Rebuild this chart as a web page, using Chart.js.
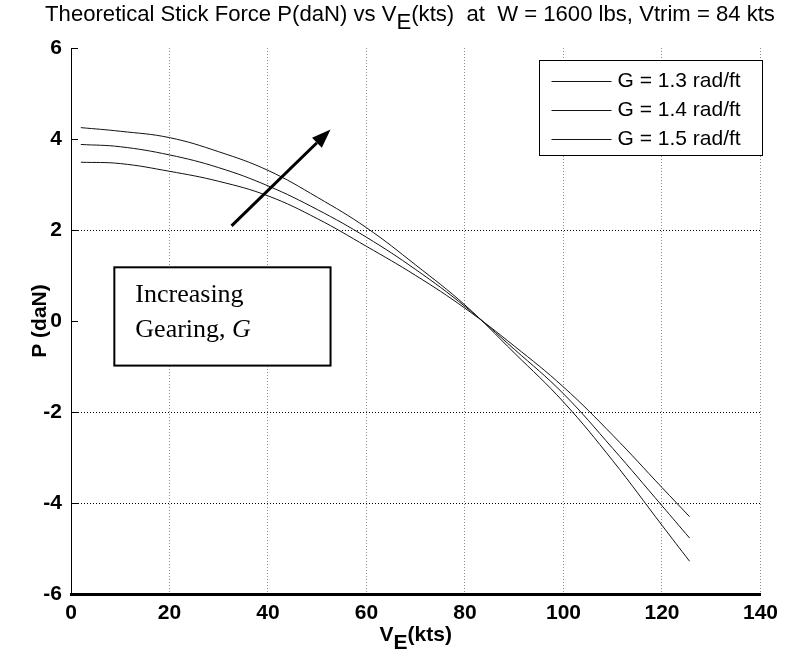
<!DOCTYPE html>
<html lang="en">
  <head>
    <meta charset="utf-8" />
    <title>Theoretical Stick Force</title>
    <style>
      html, body { margin: 0; padding: 0; background: #fff; }
      #wrap { width: 785px; height: 659px; }
    </style>
  </head>
  <body>
    <div id="wrap">
      <canvas id="canvas"></canvas>
    </div>

    <script src="https://cdn.jsdelivr.net/npm/chart.js"></script>

    <script>
      // equivalent airspeed, kts
      const speeds = [2, 10, 20, 30, 40, 50, 60, 70, 80, 90, 100, 110, 120, 125.6];
      // stick force P (daN) for each gearing
      const forceG13 = [3.49, 3.46, 3.29, 3.07, 2.75, 2.25, 1.64, 1.0, 0.28, -0.55, -1.45, -2.51, -3.66, -4.3];
      const forceG14 = [3.88, 3.83, 3.65, 3.37, 2.97, 2.45, 1.84, 1.13, 0.32, -0.62, -1.6, -2.8, -4.06, -4.77];
      const forceG15 = [4.25, 4.17, 4.03, 3.72, 3.31, 2.72, 2.05, 1.23, 0.35, -0.7, -1.78, -3.07, -4.49, -5.28];
      const seriesLabels = ["G = 1.3 rad/ft", "G = 1.4 rad/ft", "G = 1.5 rad/ft"];

      const xTicks = [0, 20, 40, 60, 80, 100, 120, 140];
      const yTicks = [-6, -4, -2, 0, 2, 4, 6];
      // only these horizontal grid lines show in the original
      const yGridShown = [2, -2, -4];

      const SANS = "'Liberation Sans', Arial, sans-serif";
      const SERIF = "'Liberation Serif', 'Times New Roman', serif";

      // draws text runs, some of them as subscripts
      function drawRuns(ctx, runs, x, y, size, weight) {
        ctx.font = weight + " " + size + "px " + SANS;
        let w = 0;
        runs.forEach((r) => (w += ctx.measureText(r.t).width));
        let cx = x - w / 2;
        ctx.textAlign = "left";
        ctx.textBaseline = "alphabetic";
        runs.forEach((r) => {
          ctx.fillText(r.t, cx, r.sub ? y + size * 0.38 : y);
          cx += ctx.measureText(r.t).width;
        });
      }

      const decor = {
        id: "decor",
        afterDatasetsDraw(chart) {
          const { ctx, chartArea: a, scales } = chart;
          const sx = scales.x, sy = scales.y;
          ctx.save();

          // inward ticks on the left axis
          ctx.strokeStyle = "#000";
          ctx.lineWidth = 1;
          yTicks.forEach((v) => {
            const py = Math.round(sy.getPixelForValue(v)) + 0.5;
            ctx.beginPath();
            ctx.moveTo(a.left, py);
            ctx.lineTo(a.left + 7, py);
            ctx.stroke();
          });

          // annotation box
          const bx1 = sx.getPixelForValue(8.8), bx2 = sx.getPixelForValue(52.7);
          const by1 = sy.getPixelForValue(1.18), by2 = sy.getPixelForValue(-0.98);
          ctx.fillStyle = "#fff";
          ctx.fillRect(bx1, by1, bx2 - bx1, by2 - by1);
          ctx.lineWidth = 2;
          ctx.strokeStyle = "#000";
          ctx.strokeRect(bx1, by1, bx2 - bx1, by2 - by1);
          ctx.fillStyle = "#000";
          ctx.textAlign = "left";
          ctx.textBaseline = "alphabetic";
          ctx.font = "26px " + SERIF;
          ctx.fillText("Increasing", bx1 + 21, by1 + 35);
          const g = "Gearing, ";
          ctx.fillText(g, bx1 + 21, by1 + 70);
          const gw = ctx.measureText(g).width;
          ctx.font = "italic 26px " + SERIF;
          ctx.fillText("G", bx1 + 21 + gw, by1 + 70);

          // arrow
          const ax1 = sx.getPixelForValue(32.6), ay1 = sy.getPixelForValue(2.09);
          const ax2 = sx.getPixelForValue(52.7), ay2 = sy.getPixelForValue(4.21);
          const ang = Math.atan2(ay2 - ay1, ax2 - ax1);
          const hl = 19, hw = 7;
          const bxh = ax2 - hl * Math.cos(ang), byh = ay2 - hl * Math.sin(ang);
          ctx.lineWidth = 3;
          ctx.beginPath();
          ctx.moveTo(ax1, ay1);
          ctx.lineTo(bxh, byh);
          ctx.stroke();
          ctx.beginPath();
          ctx.moveTo(ax2, ay2);
          ctx.lineTo(bxh + hw * Math.sin(ang), byh - hw * Math.cos(ang));
          ctx.lineTo(bxh - hw * Math.sin(ang), byh + hw * Math.cos(ang));
          ctx.closePath();
          ctx.fill();

          // legend
          const lx = 539.5, ly = 60.5, lw = 223, lh = 95;
          ctx.fillStyle = "#fff";
          ctx.fillRect(lx, ly, lw, lh);
          ctx.lineWidth = 1;
          ctx.strokeStyle = "#000";
          ctx.strokeRect(lx, ly, lw, lh);
          ctx.font = "21px " + SANS;
          ctx.textBaseline = "middle";
          ctx.fillStyle = "#000";
          chart.data.datasets.forEach((ds, i) => {
            const yy = ly + 20 + i * 29;
            ctx.strokeStyle = ds.borderColor;
            ctx.beginPath();
            ctx.moveTo(lx + 12, Math.round(yy) + 0.5);
            ctx.lineTo(lx + 72, Math.round(yy) + 0.5);
            ctx.stroke();
            ctx.fillText(ds.label, lx + 78, yy + 1);
          });
          ctx.restore();
        },
        afterDraw(chart) {
          const { ctx, chartArea: a } = chart;
          ctx.save();
          ctx.fillStyle = "#000";

          // title, fitted to the width it takes in the original
          const titleRuns = [
            { t: "Theoretical Stick Force P(daN) vs V" },
            { t: "E", sub: true },
            { t: "(kts)  at  W = 1600 lbs, Vtrim = 84 kts" },
          ];
          ctx.font = "20px " + SANS;
          let tw = 0;
          titleRuns.forEach((r) => (tw += ctx.measureText(r.t).width));
          const ts = (20 * 730) / tw;
          drawRuns(ctx, titleRuns, 410, 21, ts, "normal");

          // x axis title
          drawRuns(ctx, [{ t: "V" }, { t: "E", sub: true }, { t: "(kts)" }], (a.left + a.right) / 2, 641, 21, "bold");

          // y axis title
          ctx.translate(46, (a.top + a.bottom) / 2);
          ctx.rotate(-Math.PI / 2);
          ctx.font = "bold 21px " + SANS;
          ctx.textAlign = "center";
          ctx.textBaseline = "alphabetic";
          ctx.fillText("P (daN)", 0, 0);
          ctx.restore();
        },
      };

      const series = [forceG13, forceG14, forceG15];
      const ctx = document.getElementById("canvas");

      new Chart(ctx, {
        type: "line",
        data: {
          datasets: series.map((vals, i) => ({
            label: seriesLabels[i],
            data: speeds.map((v, j) => ({ x: v, y: vals[j] })),
            borderColor: "#111",
            borderWidth: 1,
            pointRadius: 0,
            fill: false,
            tension: 0.4,
          })),
        },
        options: {
          responsive: true,
          maintainAspectRatio: false,
          animation: false,
          devicePixelRatio: 1,
          layout: { padding: { top: 48, right: 22, left: 0, bottom: 0 } },
          plugins: {
            legend: { display: false },
            title: { display: false },
            tooltip: { enabled: false },
          },
          scales: {
            x: {
              type: "linear",
              min: 0,
              max: 140,
              afterBuildTicks: (s) => {
                s.ticks = xTicks.map((v) => ({ value: v }));
              },
              afterFit: (s) => {
                s.height = 65;
              },
              ticks: {
                color: "#000",
                padding: 7,
                maxRotation: 0,
                font: { family: SANS, size: 21, weight: "bold" },
              },
              grid: {
                color: (c) => (c.tick && c.tick.value === 0 ? "rgba(0,0,0,0)" : "#8a8a8a"),
                lineWidth: 1,
                drawTicks: false,
              },
              border: { color: "#000", width: 3, dash: [1, 2] },
            },
            y: {
              min: -6,
              max: 6,
              afterBuildTicks: (s) => {
                s.ticks = yTicks.map((v) => ({ value: v }));
              },
              afterFit: (s) => {
                s.width = 71;
              },
              ticks: {
                color: "#000",
                padding: 9,
                font: { family: SANS, size: 21, weight: "bold" },
              },
              grid: {
                color: (c) => (c.tick && yGridShown.includes(c.tick.value) ? "#000" : "rgba(0,0,0,0)"),
                lineWidth: 1,
                drawTicks: false,
              },
              border: { color: "#000", width: 1, dash: [1, 2] },
            },
          },
        },
        plugins: [decor],
      });
    </script>
  </body>
</html>
